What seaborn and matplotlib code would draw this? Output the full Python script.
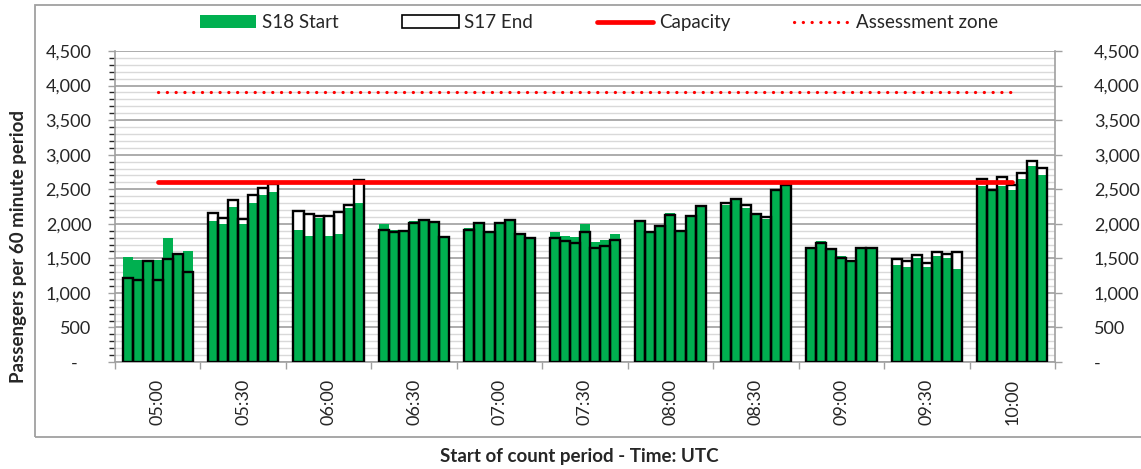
import matplotlib
matplotlib.use("Agg")
import matplotlib.pyplot as plt
from matplotlib.patches import Patch, Rectangle
from matplotlib.lines import Line2D
from matplotlib.ticker import FuncFormatter, MultipleLocator
import seaborn as sns
import pandas as pd

# Data
periods = ["05:00", "05:30", "06:00", "06:30", "07:00", "07:30",
           "08:00", "08:30", "09:00", "09:30", "10:00"]
bars_per_period = 7

s18_start = [
    1515, 1480, 1450, 1480, 1790, 1560, 1605,
    2035, 1995, 2245, 1995, 2305, 2410, 2465,
    1905, 1825, 2090, 1825, 1850, 2235, 2295,
    1995, 1910, 1895, 2040, 2065, 2025, 1800,
    1940, 2015, 1885, 2015, 2055, 1850, 1790,
    1880, 1830, 1815, 1990, 1730, 1770, 1855,
    2045, 1875, 1970, 2150, 1900, 2115, 2260,
    2270, 2360, 2235, 2135, 2070, 2490, 2560,
    1645, 1755, 1640, 1535, 1480, 1670, 1670,
    1410, 1380, 1505, 1380, 1535, 1510, 1340,
    2550, 2490, 2550, 2490, 2655, 2840, 2700,
]
s17_end = [
    1220, 1190, 1455, 1180, 1495, 1565, 1300,
    2155, 2090, 2345, 2065, 2410, 2515, 2580,
    2190, 2145, 2110, 2110, 2165, 2275, 2630,
    1915, 1885, 1895, 2010, 2060, 2030, 1805,
    1915, 2015, 1885, 2015, 2055, 1850, 1800,
    1790, 1750, 1725, 1885, 1645, 1680, 1765,
    2045, 1875, 1970, 2130, 1900, 2115, 2260,
    2305, 2360, 2275, 2135, 2105, 2490, 2560,
    1645, 1720, 1640, 1500, 1455, 1650, 1645,
    1495, 1455, 1555, 1440, 1585, 1560, 1585,
    2645, 2495, 2675, 2560, 2730, 2910, 2810,
]
capacity = [2600] * len(periods)
assessment_zone = [3900] * len(periods)

GREEN = "#00B050"
RED = "#FF0000"
GRID_MAJOR = "#a6a6a6"
GRID_MINOR = "#d9d9d9"
FRAME = "#a0a0a0"

# each half-hour block takes 8.5 bar widths: 0.75 gap + 7 bars + 0.75 gap
block = bars_per_period + 1.5
rows = []
for g, p in enumerate(periods):
    for i in range(bars_per_period):
        k = g * bars_per_period + i
        rows.append({"pos": g * block + 1.25 + i, "period": p,
                     "s18": s18_start[k], "s17": s17_end[k]})
df = pd.DataFrame(rows)
centres = [g * block + block / 2 for g in range(len(periods))]
lines = pd.DataFrame({"pos": centres, "capacity": capacity,
                      "assessment": assessment_zone})

sns.set_theme(style="white")
plt.rcParams["font.family"] = ["Lato", "DejaVu Sans"]

fig = plt.figure(figsize=(11.41, 4.69), dpi=100)
ax = fig.add_axes([0.1008, 0.2281, 0.8238, 0.6631])

# S17 filled white underneath, S18 green on top, then S17 outline again
sns.barplot(data=df, x="pos", y="s17", native_scale=True, width=1,
            color="white", edgecolor="none", saturation=1,
            errorbar=None, ax=ax, zorder=2)
sns.barplot(data=df, x="pos", y="s18", native_scale=True, width=1,
            color=GREEN, edgecolor="none", saturation=1,
            errorbar=None, ax=ax, zorder=3)
sns.barplot(data=df, x="pos", y="s17", native_scale=True, width=1,
            fill=False, edgecolor="black", linewidth=1.7,
            errorbar=None, ax=ax, zorder=4)

sns.lineplot(data=lines, x="pos", y="capacity", color=RED, linewidth=3.4,
             ax=ax, zorder=5)
sns.lineplot(data=lines, x="pos", y="assessment", color=RED, linewidth=2.3,
             dashes=False, ax=ax, zorder=5)
ax.lines[-1].set_linestyle((0, (0.05, 2.7)))
ax.lines[-1].set_dash_capstyle("round")

ax.set_xlim(0, block * len(periods))
ax.set_ylim(0, 4500)

# gridlines
ax.yaxis.set_major_locator(MultipleLocator(500))
ax.yaxis.set_minor_locator(MultipleLocator(100))
ax.grid(which="major", axis="y", color=GRID_MAJOR, linewidth=1.3, zorder=0)
ax.grid(which="minor", axis="y", color=GRID_MINOR, linewidth=1.0, zorder=0)
ax.grid(which="both", axis="x", visible=False)
ax.set_axisbelow(True)

fmt = FuncFormatter(lambda v, _: "-   " if v == 0 else f"{int(v):,}")
ax.yaxis.set_major_formatter(fmt)
ax.tick_params(axis="y", which="major", left=True, right=True,
               labelleft=True, labelright=False, length=5, width=1,
               color=FRAME, labelsize=13, pad=12)
ax.tick_params(axis="y", which="minor", left=False, right=False)

# right hand axis labels
ax2 = ax.twinx()
ax2.set_ylim(0, 4500)
ax2.yaxis.set_major_locator(MultipleLocator(500))
ax2.yaxis.set_major_formatter(FuncFormatter(lambda v, _: "-" if v == 0 else f"{int(v):,}"))
ax2.tick_params(axis="y", length=5, width=1, color=FRAME, labelsize=13, pad=23)
ax2.grid(False)
for s in ax2.spines.values():
    s.set_visible(False)

# x axis: labels at block centres, tick marks at block edges
ax.set_xticks(centres)
ax.set_xticklabels(periods, rotation=90, fontsize=13)
ax.set_xticks([g * block for g in range(len(periods) + 1)], minor=True)
ax.tick_params(axis="x", which="major", length=0, pad=12)
ax.tick_params(axis="x", which="minor", bottom=True, length=5, width=1,
               color=FRAME)

ax.set_xlabel("")
ax.set_ylabel("")
for side in ["left", "right", "bottom"]:
    ax.spines[side].set_visible(True)
    ax.spines[side].set_color(FRAME)
    ax.spines[side].set_linewidth(1.2)
ax.spines["top"].set_visible(False)

fig.text(0.0160, 0.475, "Passengers per 60 minute period", rotation=90,
         ha="center", va="center", fontsize=13.5, fontweight="bold")
fig.text(0.508, 0.026, "Start of count period - Time: UTC",
         ha="center", va="center", fontsize=13.5, fontweight="bold")

# outer chart frame
fig.patches.append(Rectangle((0.0307, 0.0682), 1.0, 0.921,
                             transform=fig.transFigure, fill=False,
                             edgecolor=FRAME, linewidth=1.3))

handles = [
    Patch(facecolor=GREEN, edgecolor="none", label="S18 Start"),
    Patch(facecolor="white", edgecolor="black", linewidth=1.2, label="S17 End"),
    Line2D([], [], color=RED, linewidth=3.4, label="Capacity"),
    Line2D([], [], color=RED, linewidth=2.3, linestyle=(0, (0.05, 2.7)),
           dash_capstyle="round", label="Assessment zone"),
]
fig.legend(handles=handles, loc="center", bbox_to_anchor=(0.525, 0.951),
           ncol=4, frameon=False, fontsize=13.5, handlelength=3.0,
           handleheight=0.7, columnspacing=3.4, handletextpad=0.3)

fig.savefig("out.png", dpi=100)
